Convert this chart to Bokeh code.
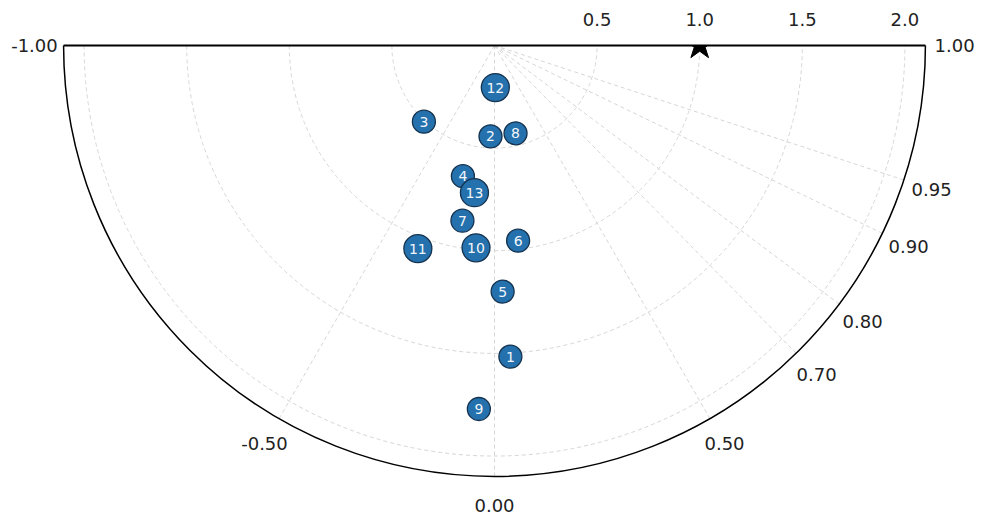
import numpy as np
from bokeh.plotting import figure
from bokeh.models import Range1d, ColumnDataSource
from bokeh.embed import file_html
from bokeh.resources import INLINE
from bokeh.core.properties import value

# ---- data ----
model_labels = ["1", "2", "3", "4", "5", "6", "7", "8", "9", "10", "11", "12", "13"]
model_std = [1.518, 0.443, 0.506, 0.655, 1.200, 0.958, 0.868, 0.440, 1.773, 0.990, 1.058, 0.205, 0.724]
model_corr = [0.051, -0.044, -0.680, -0.235, 0.033, 0.120, -0.180, 0.233, -0.043, -0.091, -0.353, 0.020, -0.135]
ref_std = 1.0
std_max = 2.1
std_ticks = [0.5, 1.0, 1.5, 2.0]
std_tick_labels = ["0.5", "1.0", "1.5", "2.0"]
std_grid = [0.5, 1.0, 1.5, 2.0]
corr_grid = [0.95, 0.90, 0.80, 0.70, 0.50, 0.00, -0.50]
corr_ticks = [1.00, 0.95, 0.90, 0.80, 0.70, 0.50, 0.00, -0.50, -1.00]
corr_tick_labels = ["1.00", "0.95", "0.90", "0.80", "0.70", "0.50", "0.00", "-0.50", "-1.00"]

# ---- layout ----
W, H = 983, 519
SCALE = 205.2          # px per data unit (equal aspect)
CX, CY = 494, 45       # px position of origin
x_start = -CX / SCALE
x_end = (W - CX) / SCALE
y_end = CY / SCALE
y_start = -(H - CY) / SCALE

p = figure(width=W, height=H, x_range=Range1d(x_start, x_end), y_range=Range1d(y_start, y_end),
           output_backend="svg", toolbar_location=None, x_axis_type=None, y_axis_type=None,
           min_border=0)
p.outline_line_color = None
p.background_fill_color = "white"
p.border_fill_color = "white"

FONT = "DejaVu Sans"
TXT = "#222222"

grid_color = "#d6d6d6"
# std dev grid arcs
p.arc(x=[0] * len(std_grid), y=[0] * len(std_grid), radius=std_grid,
      start_angle=np.pi, end_angle=2 * np.pi, direction="anticlock",
      line_color=grid_color, line_dash="4 3", line_width=1)
# correlation radial lines
cg = np.array(corr_grid)
p.segment(x0=np.zeros(len(cg)), y0=np.zeros(len(cg)), x1=std_max * cg,
          y1=-std_max * np.sqrt(1 - cg ** 2),
          line_color=grid_color, line_dash="4 3", line_width=1)

# reference star (upper half hidden behind the top border, as in the original)
p.scatter(x=[ref_std], y=[0], marker="star", size=30, color="black")
p.quad(left=[ref_std - 0.09], right=[ref_std + 0.09], bottom=[0], top=[0.09],
       fill_color="white", line_color=None)

# frame: top line and outer arc
p.segment(x0=[-std_max], y0=[0], x1=[std_max], y1=[0], line_color="black", line_width=1.8)
p.arc(x=[0], y=[0], radius=[std_max], start_angle=np.pi, end_angle=2 * np.pi,
      direction="anticlock", line_color="black", line_width=1.5)

# std dev tick labels (top)
p.text(x=std_ticks, y=[0] * len(std_ticks), text=std_tick_labels, y_offset=-26,
       text_align="center", text_baseline="middle", text_font=value(FONT),
       text_font_size="18px", text_color=TXT)

# correlation tick labels
ct = np.array(corr_ticks)
rl = std_max + 0.142
p.text(x=rl * ct, y=-rl * np.sqrt(1 - ct ** 2), text=corr_tick_labels,
       text_align="center", text_baseline="middle", text_font=value(FONT),
       text_font_size="18px", text_color=TXT)

# models
s = np.array(model_std)
c = np.array(model_corr)
src = ColumnDataSource(dict(x=s * c, y=-s * np.sqrt(1 - c ** 2), text=model_labels,
                            size=[23 if len(t) == 1 else 28 for t in model_labels]))
p.scatter(x="x", y="y", size="size", source=src, marker="circle",
          fill_color="#2471ad", line_color="#15324e", line_width=1.3)
p.text(x="x", y="y", text="text", source=src, text_align="center", text_baseline="middle",
       text_font=value(FONT), text_font_size="14px", text_color="#f2f6fa")

open("out.html", "w").write(file_html(p, INLINE))
